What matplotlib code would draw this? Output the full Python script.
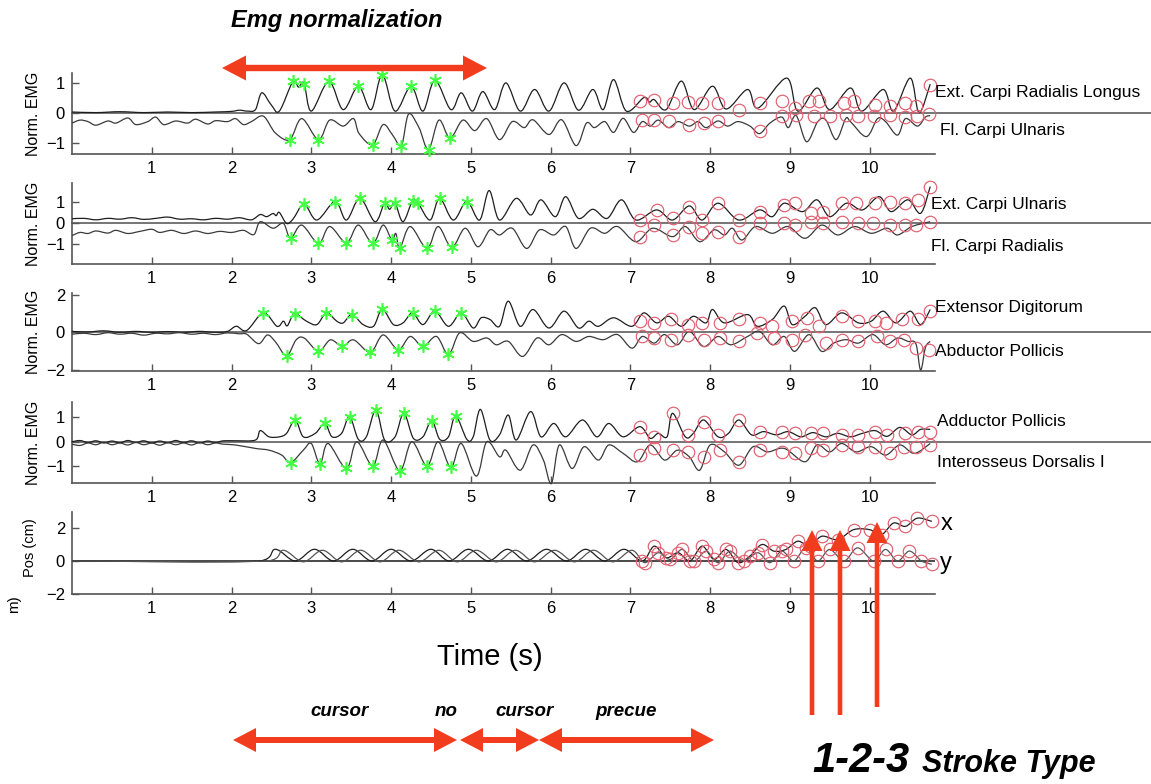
import numpy as np
import matplotlib
matplotlib.use("Agg")
import matplotlib.pyplot as plt
from matplotlib.patches import Polygon, PathPatch
from matplotlib.path import Path

plt.rcParams['font.family'] = ['Liberation Sans', 'DejaVu Sans']

W, H = 1151, 784

# ---------------------------------------------------------------- data
# time (s), normalized EMG ; vertices of each envelope trace
ecrl = [(0.0,0.02),(0.3,0.0),(0.6,0.03),(0.9,0.0),(1.2,0.02),(1.5,0.0),(1.8,0.02),(2.0,0.04),(2.1,0.08),
        (2.2,0.05),(2.3,0.1),(2.38,0.66),(2.5,0.25),(2.6,0.05),(2.77,1.04),(2.84,0.85),(2.91,0.98),(3.0,0.05),
        (3.22,1.04),(3.4,0.1),(3.59,0.88),(3.75,0.1),(3.89,1.27),(4.05,0.05),(4.25,0.88),(4.4,0.05),(4.55,1.08),
        (4.75,0.1),(4.88,0.66),(5.02,0.05),(5.15,0.7),(5.3,0.1),(5.44,0.99),(5.62,0.05),(5.80,0.77),(5.98,0.05),
        (6.17,0.99),(6.35,0.08),(6.53,0.77),(6.66,0.1),(6.79,1.1),(6.95,0.05),(7.17,0.5),(7.24,0.35),(7.30,0.43),
        (7.45,0.1),(7.64,1.05),(7.8,0.1),(8.03,0.88),(8.2,0.12),(8.47,0.77),(8.6,0.15),(8.96,1.15),(9.1,0.05),
        (9.34,0.82),(9.5,0.1),(9.76,0.82),(9.9,0.05),(10.17,0.77),(10.3,0.05),(10.51,1.15),(10.62,0.0),(10.76,0.95)]
fcu = [(0.0,-0.35),(0.1,-0.25),(0.2,-0.3),(0.3,-0.42),(0.45,-0.28),(0.55,-0.35),(0.7,-0.18),(0.8,-0.4),
       (0.95,-0.3),(1.05,-0.15),(1.15,-0.4),(1.3,-0.28),(1.45,-0.35),(1.55,-0.22),(1.7,-0.38),(1.8,-0.27),
       (1.95,-0.3),(2.05,-0.2),(2.15,-0.4),(2.25,-0.3),(2.4,-0.12),(2.55,-0.68),(2.73,-0.9),(2.88,-0.2),
       (3.09,-0.9),(3.23,-0.25),(3.4,-0.45),(3.53,-0.2),(3.6,-0.7),(3.77,-1.07),(3.9,-0.4),(4.02,-0.75),
       (4.13,-1.1),(4.22,-0.05),(4.35,-0.5),(4.47,-1.23),(4.6,-0.25),(4.74,-0.85),(4.9,-0.25),(5.05,-0.6),
       (5.2,-0.2),(5.36,-0.9),(5.52,-0.3),(5.67,-0.5),(5.78,-0.24),(5.98,-0.73),(6.14,-0.24),(6.32,-1.1),
       (6.45,-0.35),(6.55,-0.5),(6.68,-0.3),(6.79,-0.66),(6.91,-0.19),(7.04,-0.66),(7.15,-0.3),(7.25,-0.45),
       (7.35,-0.25),(7.48,-0.5),(7.6,-0.3),(7.74,-0.45),(7.85,-0.3),(7.95,-0.5),(8.1,-0.28),(8.22,-0.45),
       (8.35,-0.3),(8.5,-0.45),(8.62,-0.7),(8.75,-0.35),(8.9,-0.15),(8.98,-0.5),(9.08,-0.1),(9.21,-0.97),
       (9.35,-0.3),(9.45,-0.24),(9.58,-0.9),(9.7,-0.2),(9.76,-0.3),(9.96,-0.8),(10.1,-0.2),(10.2,-0.3),
       (10.35,-0.75),(10.45,-0.2),(10.6,-0.45),(10.7,-0.15),(10.76,-0.1)]
ecu = [(0.0,0.2),(0.15,0.22),(0.3,0.15),(0.45,0.22),(0.6,0.18),(0.75,0.25),(0.9,0.17),(1.05,0.22),(1.2,0.28),
       (1.35,0.18),(1.5,0.2),(1.65,0.15),(1.8,0.22),(1.95,0.18),(2.1,0.25),(2.25,0.15),(2.36,0.40),(2.44,0.3),
       (2.52,0.45),(2.56,0.35),(2.6,0.5),(2.69,-0.02),(2.77,0.18),(2.91,0.89),(3.07,0.14),(3.30,1.02),(3.44,0.14),
       (3.61,1.17),(3.80,0.06),(3.92,0.97),(3.98,0.65),(4.05,0.94),(4.15,0.06),(4.27,1.06),(4.34,0.94),(4.49,0.14),
       (4.61,1.17),(4.78,0.14),(4.95,1.02),(5.11,0.14),(5.23,1.54),(5.36,0.14),(5.57,1.17),(5.75,0.38),(5.88,1.1),
       (6.06,0.30),(6.19,1.25),(6.35,0.22),(6.53,0.65),(6.71,0.22),(6.89,1.1),(7.07,0.14),(7.33,0.62),(7.53,0.14),
       (7.74,0.81),(7.90,0.14),(8.10,0.94),(8.36,0.14),(8.62,0.62),(8.78,0.30),(8.93,0.94),(9.16,0.54),(9.34,1.1),
       (9.50,0.30),(9.71,0.94),(9.91,0.62),(10.12,1.25),(10.27,0.54),(10.48,1.1),(10.64,0.46),(10.76,1.73)]
fcr = [(0.0,-0.6),(0.1,-0.45),(0.2,-0.5),(0.3,-0.38),(0.45,-0.48),(0.55,-0.35),(0.7,-0.5),(0.85,-0.4),(1.0,-0.3),
       (1.1,-0.45),(1.25,-0.35),(1.4,-0.5),(1.55,-0.38),(1.7,-0.5),(1.85,-0.4),(2.0,-0.45),(2.15,-0.35),(2.28,-0.55),
       (2.36,0.06),(2.52,-0.25),(2.65,-0.02),(2.74,-0.73),(2.88,-0.1),(3.09,-0.97),(3.23,-0.17),(3.44,-0.94),
       (3.59,-0.1),(3.77,-0.97),(3.90,-0.1),(4.01,-0.81),(4.06,-0.5),(4.11,-1.21),(4.24,-0.17),(4.45,-1.21),
       (4.59,-0.17),(4.76,-1.16),(4.93,-0.25),(5.09,-1.13),(5.24,-0.33),(5.36,-0.57),(5.52,-0.25),(5.70,-1.21),
       (5.86,-0.33),(6.04,-0.57),(6.19,-0.17),(6.32,-1.21),(6.50,-0.25),(6.68,-0.49),(6.84,-0.17),(7.07,-0.89),
       (7.28,-0.25),(7.53,-0.65),(7.69,-0.17),(7.87,-0.89),(8.05,-0.33),(8.18,-0.57),(8.28,-0.25),(8.4,-0.81),
       (8.57,-0.17),(8.78,-0.49),(8.98,-0.17),(9.19,-0.73),(9.40,-0.1),(9.60,-0.57),(9.81,-0.17),(10.02,-0.49),
       (10.22,-0.25),(10.35,-0.57),(10.53,-0.17),(10.76,0.06)]
ed = [(0.0,0.05),(0.2,0.02),(0.4,0.08),(0.6,0.0),(0.8,0.05),(1.0,0.0),(1.2,0.04),(1.4,0.0),(1.6,0.05),(1.8,0.0),
      (1.95,0.05),(2.06,0.32),(2.19,0.1),(2.40,1.03),(2.57,0.32),(2.65,0.59),(2.70,0.35),(2.79,0.98),(2.94,0.59),
      (3.07,0.41),(3.19,1.03),(3.32,0.59),(3.40,0.5),(3.51,0.94),(3.65,0.41),(3.78,0.32),(3.89,1.21),(4.03,0.41),
      (4.15,0.5),(4.27,1.03),(4.40,0.41),(4.55,1.12),(4.72,0.32),(4.88,1.03),(5.03,0.23),(5.13,0.77),(5.24,0.68),
      (5.36,0.32),(5.47,1.65),(5.62,0.32),(5.78,1.21),(5.98,0.23),(6.17,1.12),(6.35,0.23),(6.48,0.59),(6.60,0.32),
      (6.79,0.77),(7.02,0.32),(7.17,1.03),(7.33,0.5),(7.48,0.85),(7.64,0.32),(7.79,0.85),(7.95,0.5),(8.03,1.21),
      (8.18,0.5),(8.47,0.94),(8.59,0.32),(8.78,0.68),(8.93,1.39),(9.03,0.41),(9.19,0.85),(9.32,1.30),(9.45,0.41),
      (9.65,1.03),(9.86,0.5),(10.02,0.59),(10.17,1.12),(10.33,0.5),(10.51,1.12),(10.64,0.41),(10.76,1.21)]
abp = [(0.0,-0.1),(0.15,-0.05),(0.3,-0.12),(0.45,-0.02),(0.6,-0.1),(0.75,-0.05),(0.9,-0.15),(1.05,-0.05),
       (1.2,-0.08),(1.35,-0.02),(1.5,-0.1),(1.65,-0.05),(1.8,-0.12),(1.95,-0.03),(2.1,-0.08),(2.19,-0.1),
       (2.34,-0.6),(2.45,-0.14),(2.55,-0.5),(2.69,-1.24),(2.81,-0.4),(2.91,-0.3),(3.09,-1.0),(3.24,-0.4),
       (3.39,-0.75),(3.53,-0.4),(3.74,-1.06),(3.90,-0.14),(4.09,-0.92),(4.24,-0.22),(4.40,-0.75),(4.57,-0.22),
       (4.72,-1.17),(4.86,-0.03),(5.03,-0.48),(5.2,-0.3),(5.32,-0.66),(5.47,-0.48),(5.65,-1.28),(5.83,-0.3),
       (5.98,-0.66),(6.14,-0.12),(6.32,-0.48),(6.48,-0.22),(6.66,-0.39),(6.84,-0.12),(7.02,-0.84),(7.15,-0.22),
       (7.30,-0.57),(7.43,-0.12),(7.59,-0.66),(7.74,0.05),(7.92,-0.75),(8.10,-0.22),(8.26,-0.66),(8.47,-0.22),
       (8.62,0.05),(8.78,-0.66),(8.93,-0.22),(9.06,-1.01),(9.24,-0.12),(9.40,-1.01),(9.55,-0.57),(9.71,-0.39),
       (9.86,-0.57),(10.04,-0.12),(10.20,-0.66),(10.35,-0.3),(10.48,-0.48),(10.58,-0.6),(10.64,-2.0),(10.7,-0.8),
       (10.76,-0.48)]
adp = [(0.0,0.0),(0.1,0.05),(0.2,-0.03),(0.3,0.04),(0.4,-0.05),(0.5,0.03),(0.6,-0.04),(0.7,0.05),(0.8,-0.03),
       (0.9,0.04),(1.0,-0.05),(1.1,0.03),(1.2,-0.04),(1.3,0.05),(1.4,-0.03),(1.5,0.04),(1.6,-0.05),(1.7,0.03),
       (1.8,-0.03),(1.9,0.04),(2.05,0.04),(2.30,0.07),(2.36,0.45),(2.47,0.2),(2.60,0.2),(2.69,0.34),(2.80,0.88),
       (2.90,0.2),(3.05,0.34),(3.17,0.74),(3.26,0.2),(3.38,0.34),(3.48,1.01),(3.59,0.1),(3.69,0.2),(3.81,1.28),
       (3.92,0.07),(4.05,0.2),(4.16,1.15),(4.28,0.14),(4.40,0.2),(4.51,0.85),(4.61,0.1),(4.72,0.2),(4.81,1.04),
       (4.95,0.1),(5.03,0.2),(5.12,1.31),(5.24,0.07),(5.36,0.28),(5.47,1.08),(5.57,0.07),(5.75,1.22),(5.88,0.2),
       (6.04,0.74),(6.19,0.2),(6.40,0.88),(6.58,0.2),(6.73,0.74),(6.91,0.2),(7.12,0.61),(7.25,0.14),(7.35,0.34),
       (7.46,0.2),(7.53,1.15),(7.69,0.2),(7.79,0.34),(7.92,0.88),(8.10,0.2),(8.23,0.34),(8.36,0.88),(8.52,0.28),
       (8.67,0.41),(8.83,0.28),(8.98,0.41),(9.14,0.2),(9.29,0.37),(9.45,0.2),(9.60,0.34),(9.76,0.2),(9.91,0.34),
       (10.07,0.45),(10.22,0.22),(10.38,0.58),(10.53,0.28),(10.64,0.5),(10.76,0.5)]
idi = [(0.0,-0.1),(0.1,-0.15),(0.2,-0.05),(0.3,-0.12),(0.4,-0.02),(0.5,-0.12),(0.6,-0.05),(0.7,-0.13),
       (0.8,-0.03),(0.9,-0.12),(1.0,-0.05),(1.1,-0.14),(1.2,-0.04),(1.3,-0.12),(1.4,-0.05),(1.5,-0.13),
       (1.6,-0.03),(1.7,-0.12),(1.8,-0.05),(1.9,-0.1),(2.05,-0.13),(2.30,-0.27),(2.47,-0.34),(2.63,-0.54),
       (2.74,-0.85),(2.90,-0.34),(3.00,-0.07),(3.11,-0.9),(3.21,-0.07),(3.44,-1.08),(3.57,0.0),(3.77,-0.98),
       (3.90,0.07),(4.11,-1.17),(4.26,0.0),(4.45,-0.98),(4.59,0.0),(4.75,-1.04),(4.88,-0.07),(5.07,-1.39),
       (5.2,0.0),(5.36,-0.61),(5.44,-0.34),(5.62,-1.15),(5.78,-0.13),(5.91,-0.74),(6.01,-1.69),(6.11,-0.13),
       (6.27,-1.08),(6.42,-0.2),(6.60,-0.74),(6.73,-0.13),(6.91,-0.47),(7.09,-0.81),(7.25,-0.13),(7.43,-0.74),
       (7.59,-0.34),(7.74,-0.61),(7.87,-1.15),(8.0,-0.13),(8.18,-0.41),(8.36,-0.95),(8.54,-0.2),(8.72,-0.41),
       (8.93,-0.27),(9.19,-0.81),(9.34,-0.13),(9.50,-0.41),(9.65,-0.07),(9.83,-0.41),(10.02,-0.2),(10.20,-0.54),
       (10.38,-0.13),(10.56,-0.47),(10.76,-0.07)]

# peaks picked for normalization (green asterisks)
ecrl_norm = [(2.77,1.04),(2.91,0.95),(3.22,1.04),(3.59,0.88),(3.89,1.27),(4.25,0.88),(4.55,1.08)]
fcu_norm = [(2.73,-0.9),(3.09,-0.9),(3.77,-1.07),(4.13,-1.1),(4.47,-1.23),(4.74,-0.85)]
ecu_norm = [(2.91,0.89),(3.30,1.02),(3.61,1.17),(3.92,0.97),(4.05,0.94),(4.27,1.06),(4.34,0.94),(4.61,1.17),(4.95,1.02)]
fcr_norm = [(2.74,-0.73),(3.09,-0.97),(3.44,-0.94),(3.77,-0.97),(4.01,-0.81),(4.11,-1.21),(4.45,-1.21),(4.76,-1.16)]
ed_norm = [(2.40,1.03),(2.79,0.98),(3.19,1.03),(3.51,0.94),(3.89,1.21),(4.27,1.03),(4.55,1.12),(4.88,1.03)]
abp_norm = [(2.69,-1.24),(3.09,-1.0),(3.39,-0.75),(3.74,-1.06),(4.09,-0.92),(4.40,-0.75),(4.72,-1.17)]
adp_norm = [(2.80,0.88),(3.17,0.74),(3.48,1.01),(3.81,1.28),(4.16,1.15),(4.51,0.85),(4.81,1.04)]
idi_norm = [(2.74,-0.85),(3.11,-0.9),(3.44,-1.08),(3.77,-0.98),(4.11,-1.17),(4.45,-0.98),(4.75,-1.04)]

# stroke samples (red circles)
ecrl_strk = [(7.12,0.38),(7.30,0.43),(7.53,0.32),(7.72,0.34),(7.90,0.32),(8.10,0.32),(8.36,0.1),(8.62,0.32),
             (8.90,0.38),(9.06,0.16),(9.24,0.38),(9.37,0.38),(9.68,0.32),(9.81,0.38),(10.07,0.27),(10.25,0.21),
             (10.45,0.32),(10.58,0.21),(10.76,0.93)]
fcu_strk = [(7.15,-0.23),(7.30,-0.23),(7.48,-0.29),(7.74,-0.40),(7.92,-0.34),(8.10,-0.29),(8.62,-0.62),
            (8.90,-0.12),(9.08,-0.07),(9.30,-0.1),(9.50,-0.12),(9.70,-0.07),(9.85,-0.1),(10.05,-0.12),
            (10.25,-0.07),(10.45,-0.15),(10.60,-0.1),(10.75,-0.05)]
ecu_strk = [(7.12,0.14),(7.33,0.62),(7.53,0.22),(7.74,0.78),(7.90,0.14),(8.10,0.94),(8.36,0.14),(8.62,0.54),
            (8.93,0.86),(9.06,0.94),(9.27,0.46),(9.42,0.54),(9.65,0.94),(9.83,0.94),(10.07,0.94),(10.25,1.02),
            (10.45,0.94),(10.61,1.1),(10.76,1.73)]
fcr_strk = [(7.12,-0.65),(7.30,-0.10),(7.53,-0.57),(7.74,-0.17),(7.90,-0.49),(8.10,-0.41),(8.36,-0.65),
            (8.62,-0.02),(8.93,-0.02),(9.06,-0.10),(9.27,0.06),(9.42,-0.02),(9.65,0.06),(9.86,-0.02),
            (10.04,-0.02),(10.25,-0.10),(10.45,-0.10),(10.58,-0.10),(10.76,0.06)]
ed_strk = [(7.12,0.59),(7.30,0.5),(7.51,0.68),(7.72,0.41),(7.90,0.5),(8.13,0.5),(8.36,0.68),(8.62,0.5),
           (8.78,0.32),(9.03,0.59),(9.21,0.77),(9.37,0.32),(9.65,0.85),(9.86,0.59),(10.07,0.59),(10.20,0.5),
           (10.40,0.68),(10.61,0.68),(10.76,1.12)]
abp_strk = [(7.15,-0.22),(7.30,-0.3),(7.51,-0.39),(7.72,-0.12),(7.92,-0.39),(8.13,-0.3),(8.36,-0.48),
            (8.59,-0.03),(8.80,-0.3),(9.03,-0.39),(9.19,-0.12),(9.45,-0.57),(9.65,-0.39),(9.86,-0.48),
            (10.09,-0.22),(10.25,-0.48),(10.43,-0.39),(10.58,-0.84),(10.74,-0.92)]
adp_strk = [(7.12,0.61),(7.30,0.2),(7.53,1.15),(7.72,0.28),(7.92,0.81),(8.10,0.28),(8.36,0.88),(8.62,0.41),
            (8.90,0.41),(9.06,0.34),(9.27,0.34),(9.42,0.34),(9.65,0.28),(9.86,0.28),(10.07,0.41),(10.22,0.28),
            (10.45,0.34),(10.61,0.41),(10.76,0.41)]
idi_strk = [(7.12,-0.54),(7.30,-0.27),(7.53,-0.34),(7.72,-0.41),(7.92,-0.61),(8.13,-0.34),(8.36,-0.81),
            (8.62,-0.34),(8.90,-0.41),(9.06,-0.47),(9.27,-0.27),(9.42,-0.34),(9.65,-0.13),(9.86,-0.2),
            (10.07,-0.2),(10.25,-0.47),(10.43,-0.2),(10.58,-0.2),(10.76,-0.13)]

# cursor position (cm)
pos_x = [(0.0,0.0),(2.35,0.0),(2.55,0.71),(2.80,0.0),(3.04,0.71),(3.28,0.0),(3.52,0.71),(3.76,0.0),(4.00,0.71),
         (4.25,0.0),(4.50,0.71),(4.73,0.0),(4.97,0.71),(5.22,0.0),(5.46,0.71),(5.70,0.0),(5.95,0.71),(6.20,0.0),
         (6.44,0.71),(6.68,0.0),(6.92,0.71),(7.15,0.0),(7.30,0.9),(7.45,0.2),(7.6,0.5),(7.75,0.0),(7.9,0.9),
         (8.05,0.1),(8.2,0.7),(8.35,-0.1),(8.5,0.3),(8.65,1.0),(8.8,0.6),(8.95,0.7),(9.1,1.2),(9.25,0.9),(9.4,1.5),
         (9.6,1.3),(9.8,1.9),(10.0,1.9),(10.15,1.6),(10.3,2.3),(10.45,2.1),(10.6,2.6),(10.78,2.4)]
pos_y = [(0.0,0.0),(2.45,0.0),(2.65,0.65),(2.90,-0.05),(3.14,0.65),(3.38,-0.05),(3.62,0.65),(3.86,-0.05),
         (4.10,0.65),(4.35,-0.05),(4.60,0.65),(4.83,-0.05),(5.07,0.65),(5.32,-0.05),(5.56,0.65),(5.80,-0.05),
         (6.05,0.65),(6.30,-0.05),(6.54,0.65),(6.78,-0.05),(7.02,0.65),(7.18,-0.1),(7.35,0.5),(7.5,0.1),(7.65,0.7),
         (7.8,0.0),(7.95,0.6),(8.1,-0.1),(8.25,0.6),(8.42,0.0),(8.6,0.5),(8.75,-0.1),(8.9,0.6),(9.05,0.0),(9.2,0.8),
         (9.35,0.0),(9.5,0.7),(9.68,0.0),(9.85,0.8),(10.05,0.0),(10.2,0.7),(10.35,0.0),(10.5,0.6),(10.65,0.0),
         (10.78,-0.2)]

x_ticks = [1, 2, 3, 4, 5, 6, 7, 8, 9, 10]
emg_names = [("Ext. Carpi Radialis Longus", "Fl. Carpi Ulnaris"),
             ("Ext. Carpi Ulnaris", "Fl. Carpi Radialis"),
             ("Extensor Digitorum", "Abductor Pollicis"),
             ("Adductor Pollicis", "Interosseus Dorsalis I")]
phase_labels = ["cursor", "no", "cursor", "precue"]

# ---------------------------------------------------------------- figure
fig = plt.figure(figsize=(W / 100, H / 100), dpi=100)


def fbox(left, top, right, bottom):
    return [left / W, 1 - bottom / H, (right - left) / W, (bottom - top) / H]


def fxy(x, y):
    return x / W, 1 - y / H


def smooth_trace(ax, pts, **kw):
    """Draw a trace through its vertices as a Catmull-Rom style bezier path."""
    p = np.asarray(pts, float)
    n = len(p)
    verts = [p[0]]
    codes = [Path.MOVETO]
    for i in range(n - 1):
        p0 = p[max(i - 1, 0)]
        p1, p2 = p[i], p[i + 1]
        p3 = p[min(i + 2, n - 1)]
        c1 = p1 + (p2 - p0) / 6.0
        c2 = p2 - (p3 - p1) / 6.0
        # keep control points inside the segment's time span
        c1[0] = np.clip(c1[0], p1[0], p2[0])
        c2[0] = np.clip(c2[0], p1[0], p2[0])
        verts += [c1, c2, p2]
        codes += [Path.CURVE4] * 3
    patch = PathPatch(Path(verts, codes), fill=False, **kw)
    ax.add_patch(patch)


AX_L, AX_R = 72, 935
XMAX = 10.82
STAR = dict(ls='none', marker=(6, 2, 0), ms=9, mew=1.2, color='#45ff45', zorder=5, clip_on=False)
CIRC = dict(ls='none', marker='o', ms=9, mfc='none', mec='#e0606f', mew=0.85, zorder=4, clip_on=False)

panels = [
    dict(box=(72.7, 154), ylim=(-1.38, 1.33), yticks=[-1, 0, 1],
         traces=(ecrl, fcu), norm=(ecrl_norm, fcu_norm), strk=(ecrl_strk, fcu_strk),
         lab_y=(92, 131), lab_x=(935, 940)),
    dict(box=(183, 264), ylim=(-1.95, 1.9), yticks=[-1, 0, 1],
         traces=(ecu, fcr), norm=(ecu_norm, fcr_norm), strk=(ecu_strk, fcr_strk),
         lab_y=(205, 246), lab_x=(931, 931)),
    dict(box=(292.7, 371), ylim=(-2.05, 2.1), yticks=[-2, 0, 2],
         traces=(ed, abp), norm=(ed_norm, abp_norm), strk=(ed_strk, abp_strk),
         lab_y=(308, 351), lab_x=(935, 935)),
    dict(box=(401.7, 483.3), ylim=(-1.68, 1.62), yticks=[-1, 0, 1],
         traces=(adp, idi), norm=(adp_norm, idi_norm), strk=(adp_strk, idi_strk),
         lab_y=(421, 463), lab_x=(937, 937)),
]


def style_axes(ax, ylim, yticks):
    ax.set_xlim(0, XMAX)
    ax.set_ylim(*ylim)
    ax.set_xticks(x_ticks)
    ax.set_yticks(yticks)
    for s in ('top', 'right'):
        ax.spines[s].set_visible(False)
    for s in ('left', 'bottom'):
        ax.spines[s].set_color('#555555')
        ax.spines[s].set_linewidth(1.2)
    ax.tick_params(direction='in', length=5, width=1, color='#555555',
                   labelsize=12, pad=5)
    ax.patch.set_alpha(0)


for i, p in enumerate(panels):
    ax = fig.add_axes(fbox(AX_L, p['box'][0], AX_R, p['box'][1]))
    style_axes(ax, p['ylim'], p['yticks'])
    ax.axhline(0, xmin=0, xmax=(W - AX_L) / (AX_R - AX_L), color='#6a6a6a',
               lw=1.3, clip_on=False, zorder=1)
    for tr, col in zip(p['traces'], ('#1e1e1e', '#3a3a3a')):
        smooth_trace(ax, tr, ec=col, lw=0.9, zorder=3, clip_on=False)
    for pk in p['norm']:
        t, v = np.array(pk).T
        ax.plot(t, v, **STAR)
    for sk in p['strk']:
        t, v = np.array(sk).T
        ax.plot(t, v, **CIRC)
    for name, lx, ly in zip(emg_names[i], p['lab_x'], p['lab_y']):
        fig.text(*fxy(lx, ly), name, fontsize=12.5, ha='left', va='center')
    cy = (p['box'][0] + p['box'][1]) / 2
    fig.text(*fxy(33, cy), "Norm. EMG", rotation=90, fontsize=11.5,
             ha='center', va='center')

# position panel
ax = fig.add_axes(fbox(AX_L, 512, AX_R, 594))
style_axes(ax, (-2, 2.97), [-2, 0, 2])
ax.axhline(0, color='#3a3a3a', lw=1.3, zorder=1)
for tr, col in ((pos_x, '#1e1e1e'), (pos_y, '#555555')):
    smooth_trace(ax, tr, ec=col, lw=0.9, zorder=3, clip_on=False)
    t, v = np.array(tr).T
    sel = t >= 7.1
    ax.plot(t[sel], v[sel], **CIRC)
fig.text(*fxy(30, 548), "Pos (cm)", rotation=90, fontsize=10.5, ha='center', va='center')
fig.text(*fxy(14, 604), "m)", rotation=90, fontsize=11, ha='center', va='center')
fig.text(*fxy(941, 524), "x", fontsize=17, ha='left', va='center')
fig.text(*fxy(940, 563), "y", fontsize=17, ha='left', va='center')

# ---------------------------------------------------------------- annotations
ov = fig.add_axes([0, 0, 1, 1], zorder=10)
ov.set_xlim(0, W)
ov.set_ylim(H, 0)
ov.axis('off')
RED = '#f23c1e'


def double_arrow(x0, x1, y, s=3.0, h=12.0, L=23.0):
    pts = [(x0, y), (x0 + L, y - h), (x0 + L, y - s), (x1 - L, y - s), (x1 - L, y - h),
           (x1, y), (x1 - L, y + h), (x1 - L, y + s), (x0 + L, y + s), (x0 + L, y + h)]
    ov.add_patch(Polygon(pts, closed=True, fc=RED, ec='none'))


def up_arrow(x, y0, y1, s=2.3, h=10.5, L=21.0):
    pts = [(x - s, y0), (x - s, y1 + L), (x - h, y1 + L), (x, y1), (x + h, y1 + L),
           (x + s, y1 + L), (x + s, y0)]
    ov.add_patch(Polygon(pts, closed=True, fc=RED, ec='none'))


double_arrow(222, 487, 68, s=3.2, h=12.5, L=24)
ov.text(337, 20, "Emg normalization", fontsize=17, fontweight='bold', style='italic',
        ha='center', va='center')

for x0, x1 in ((233, 457), (460, 539), (539, 714)):
    double_arrow(x0, x1, 740)
for lab, cx in zip(phase_labels, (340, 446, 525, 626)):
    ov.text(cx, 712, lab, fontsize=13.5, fontweight='bold', style='italic',
            ha='center', va='center')

for x, y0, y1 in ((812, 715, 530), (840, 715, 530), (877, 707, 522)):
    up_arrow(x, y0, y1)

ov.text(490, 657, "Time (s)", fontsize=21, ha='center', va='center')
ov.text(812, 772, "1-2-3", fontsize=30, fontweight='bold', style='italic',
        ha='left', va='baseline')
ov.text(922, 772, "Stroke Type", fontsize=22, fontweight='bold', style='italic',
        ha='left', va='baseline')

fig.savefig("out.png", dpi=100)
